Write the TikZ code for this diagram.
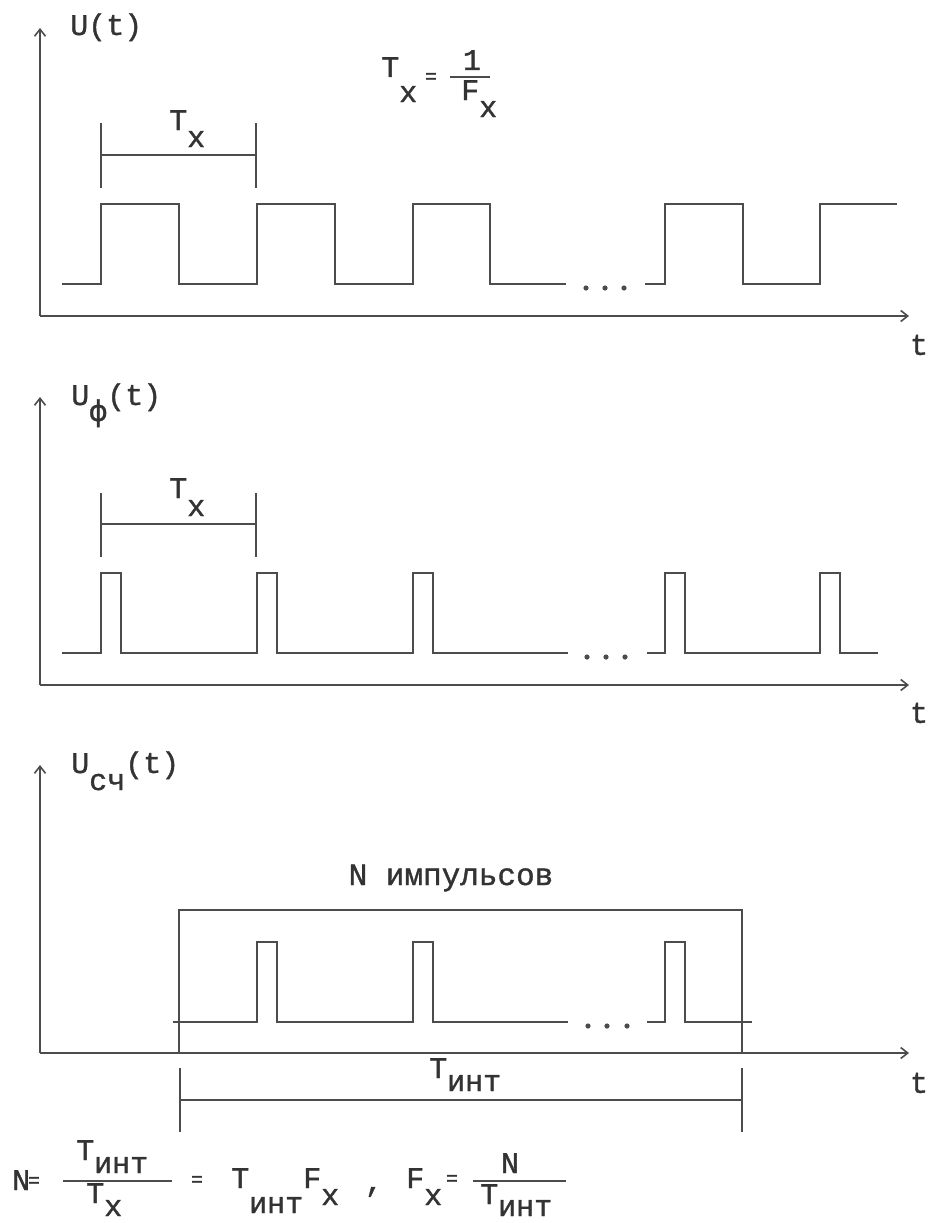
\documentclass[tikz,border=0pt]{standalone}
\usepackage{fontspec}
\setmainfont{Liberation Mono}[FakeBold=1.2]
\usetikzlibrary{arrows.meta}
\definecolor{ink}{gray}{0.30}
\definecolor{txt}{gray}{0.20}
\newcommand{\sbx}[2]{\raisebox{-#1pt}{#2}}
\begin{document}
\begin{tikzpicture}[x=1pt,y=-1pt,
  line/.style={draw=ink,line width=1.8pt},
  wave/.style={draw=ink,line width=1.8pt,line join=miter},
  axis/.style={draw=ink,line width=1.8pt,-{Straight Barb[length=7pt,width=11pt,line width=1.6pt]}},
  lbl/.style={text=txt,inner sep=0pt,font=\fontsize{30}{36}\selectfont},
  eqs/.style={text=txt,inner sep=0pt,font=\fontsize{20}{24}\selectfont}]
\useasboundingbox[fill=white] (0,0) rectangle (928,1223);

% ---------------- panel 1 ----------------
\coordinate (o1) at (40,316);
\coordinate (y1) at (40,28);
\coordinate (x1) at (909,316);
\draw[axis] (o1) -- (y1);
\draw[axis] (o1) -- (x1);
\node[lbl] (t1) at (919,345) {t};
\node[lbl,anchor=base west] (u1) at (70,35) {U(t)};
\node[lbl,anchor=base west] (f1T) at (381,77) {T\sbx{25}{x}};
\node[eqs] (f1eq) at (431,78) {=};
\node[lbl,anchor=base] (f1one) at (472,70) {1};
\draw[line,line width=1.5pt] (450,77) -- (490,77);
\node[lbl,anchor=base west] (f1F) at (461,100) {F\sbx{17}{x}};
% bracket
\draw[line] (101,123) -- (101,188);
\draw[line] (256,123) -- (256,188);
\draw[line] (101,155) -- (256,155);
\node[lbl,anchor=base west] (tx1) at (169,130) {T\sbx{17}{x}};
% square wave
\draw[wave] (62,284) -- (101,284) -- (101,204) -- (179,204) -- (179,284)
  -- (257,284) -- (257,204) -- (335,204) -- (335,284) -- (413,284)
  -- (413,204) -- (490,204) -- (490,284) -- (566,284);
\draw[wave] (645,284) -- (665,284) -- (665,204) -- (743,204) -- (743,284)
  -- (820,284) -- (820,204) -- (897,204);
\foreach \x in {586,605,624} \fill[ink] (\x,288) circle (2.6pt);

% ---------------- panel 2 ----------------
\coordinate (o2) at (40,685);
\coordinate (y2) at (40,397);
\coordinate (x2) at (909,685);
\draw[axis] (o2) -- (y2);
\draw[axis] (o2) -- (x2);
\node[lbl] (t2) at (919,713) {t};
\node[lbl,anchor=base west] (u2) at (71,405) {U\sbx{16}{ф}(t)};
\draw[line] (101,493) -- (101,557);
\draw[line] (256,493) -- (256,557);
\draw[line] (101,524) -- (256,524);
\node[lbl,anchor=base west] (tx2) at (169,498) {T\sbx{18}{x}};
\draw[wave] (62,653) -- (101,653) -- (101,573) -- (121,573) -- (121,653)
  -- (257,653) -- (257,573) -- (277,573) -- (277,653)
  -- (413,653) -- (413,573) -- (433,573) -- (433,653) -- (568,653);
\draw[wave] (647,653) -- (665,653) -- (665,573) -- (685,573) -- (685,653)
  -- (820,653) -- (820,573) -- (840,573) -- (840,653) -- (878,653);
\foreach \x in {587,606,625} \fill[ink] (\x,657) circle (2.6pt);

% ---------------- panel 3 ----------------
\coordinate (o3) at (40,1053);
\coordinate (y3) at (40,765);
\coordinate (x3) at (909,1053);
\draw[axis] (o3) -- (y3);
\draw[axis] (o3) -- (x3);
\node[lbl] (t3) at (919,1083) {t};
\node[lbl,anchor=base west] (u3) at (71,773) {U\sbx{17}{сч}(t)};
\node[lbl,anchor=base,font=\fontsize{31}{36}\selectfont] (nimp) at (451,885) {N импульсов};
% gate
\draw[line] (179,1053) -- (179,910) -- (742,910) -- (742,1053);
% pulses
\draw[wave] (173,1022) -- (257,1022) -- (257,942) -- (277,942) -- (277,1022)
  -- (413,1022) -- (413,942) -- (433,942) -- (433,1022) -- (568,1022);
\draw[wave] (647,1022) -- (665,1022) -- (665,942) -- (685,942) -- (685,1022) -- (752,1022);
\foreach \x in {588,607,627} \fill[ink] (\x,1026) circle (2.6pt);
% T_int bracket
\draw[line] (180,1068) -- (180,1132);
\draw[line] (742,1068) -- (742,1132);
\draw[line] (180,1100) -- (742,1100);
\node[lbl,anchor=base west] (tint) at (429,1078) {T\sbx{13}{инт}};

% ---------------- formula ----------------
\node[lbl,anchor=base west] (fN) at (12,1190) {N};
\node[eqs] (feq1) at (34,1182) {=};
\node[lbl,anchor=base west] (fnum1) at (76,1160) {T\sbx{13}{инт}};
\draw[line,line width=1.5pt] (63,1181) -- (172,1181);
\node[lbl,anchor=base west] (fden1) at (86,1203) {T\sbx{13}{x}};
\node[eqs] (feq2) at (197,1181) {=};
\node[lbl,anchor=base west] (fmid) at (231,1188) {T\sbx{25}{инт}F\sbx{17}{x}};
\node[lbl] (fcomma) at (374,1192) {,};
\node[lbl,anchor=base west] (fF) at (406,1188) {F\sbx{17}{x}};
\node[eqs] (feq3) at (452,1180) {=};
\node[lbl,anchor=base] (fnum2) at (510,1173) {N};
\draw[line,line width=1.5pt] (473,1181) -- (566,1181);
\node[lbl,anchor=base west] (fden2) at (480,1204) {T\sbx{12}{инт}};
\end{tikzpicture}
\end{document}
